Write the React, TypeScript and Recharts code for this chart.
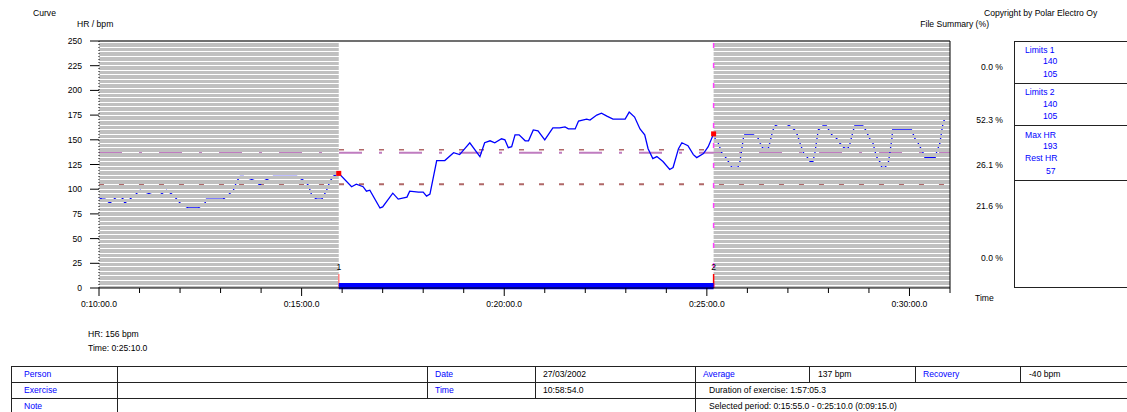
import React from 'react';
import {
  ComposedChart,
  Line,
  XAxis,
  YAxis,
  ReferenceLine,
  ReferenceArea,
  ReferenceDot,
} from 'recharts';

// ---------- data (time in seconds of exercise, HR in bpm) ----------
const preTimes = [600, 604, 609, 616, 629, 636, 638, 646, 653, 661, 680, 690, 700, 710, 715, 720, 732, 747, 757, 759, 777, 784, 791, 799, 804, 809, 814, 833, 838, 843, 858, 883, 893, 905, 910, 915, 922, 930, 937, 942, 947];
const preHr = [92, 90, 90, 86, 94, 90, 86, 90, 94, 99, 94, 94, 99, 94, 90, 86, 81, 81, 86, 90, 90, 90, 94, 99, 108, 113, 113, 108, 104, 108, 113, 113, 113, 108, 104, 94, 90, 90, 99, 108, 113];

const selTimes = [955, 974, 981, 991, 996, 1001, 1016, 1020, 1035, 1043, 1056, 1060, 1073, 1080, 1085, 1090, 1100, 1112, 1125, 1134, 1149, 1164, 1171, 1179, 1186, 1196, 1201, 1206, 1211, 1216, 1222, 1231, 1236, 1243, 1250, 1260, 1272, 1282, 1290, 1295, 1305, 1310, 1322, 1327, 1337, 1344, 1352, 1361, 1379, 1385, 1393, 1401, 1408, 1413, 1420, 1426, 1435, 1445, 1450, 1458, 1463, 1472, 1480, 1485, 1495, 1502, 1510];
const selHr = [116, 102.5, 105, 102.5, 98, 99, 81, 82, 96, 90, 92, 98, 97, 97, 93, 95, 129, 129, 137, 135, 147, 133, 147, 149, 147, 151, 150, 142, 143, 155, 155, 149, 149, 160, 159, 150, 162, 162, 163, 161, 161, 169, 171, 170, 175, 177, 174, 171, 171, 178, 173, 161, 155, 141, 131, 133, 128, 120, 122, 141, 147, 144, 135, 132, 136, 143, 156];

const postTimes = [1512, 1517, 1522, 1527, 1532, 1537, 1546, 1549, 1551, 1554, 1556, 1569, 1576, 1579, 1583, 1591, 1593, 1596, 1598, 1601, 1611, 1623, 1630, 1634, 1638, 1643, 1648, 1653, 1657, 1660, 1662, 1665, 1672, 1677, 1685, 1692, 1697, 1704, 1709, 1712, 1717, 1719, 1731, 1735, 1741, 1746, 1751, 1756, 1759, 1764, 1769, 1771, 1774, 1775, 1803, 1808, 1813, 1820, 1823, 1838, 1840, 1845, 1848, 1850, 1855];
const postHr = [151.5, 146.5, 137, 133, 128, 122, 122, 128, 137, 151.5, 155, 155, 151.5, 146.5, 141.4, 141.4, 146.5, 155, 160, 164, 168, 164, 160, 155, 146.5, 137, 133, 128, 128, 137, 146.5, 160, 164, 164, 155, 151.5, 146.5, 141.4, 141.4, 146.5, 160, 164, 164, 160, 151.5, 146.5, 133, 128, 122, 122, 128, 137, 151.5, 160, 160, 151.5, 146.5, 137, 132, 132, 137, 146.5, 160, 168, 174];

const selStart = 955;
const selEnd = 1510;
const limitUpper = 140;
const limitLower = 105;
const averageHr = 137;

const xTicks = [600, 660, 720, 780, 840, 900, 960, 1020, 1080, 1140, 1200, 1260, 1320, 1380, 1440, 1500, 1560, 1620, 1680, 1740, 1800, 1860];
const xMajorTicks = [600, 900, 1200, 1500, 1800];
const yTicks = [0, 25, 50, 75, 100, 125, 150, 175, 200, 225, 250];

const summaryLabels = ['0.0 %', '52.3 %', '26.1 %', '21.6 %', '0.0 %'];
const limits1 = [140, 105];
const limits2 = [140, 105];
const maxHr = 193;
const restHr = 57;

const personInfo = { date: '27/03/2002', time: '10:58:54.0', average: '137 bpm', recovery: '-40 bpm' };
const durationText = 'Duration of exercise: 1:57:05.3';

// ---------- build table ----------
const data = [
  ...preTimes.map((t, i) => ({ t, hr: preHr[i] })),
  ...selTimes.map((t, i) => ({ t, hr: selHr[i] })),
  ...postTimes.map((t, i) => ({ t, hr: postHr[i] })),
];
const hrAt = (t: number) => {
  const d = data.find((p) => p.t === t);
  return d ? d.hr : 0;
};

const fmtTime = (s: number) => {
  const h = Math.floor(s / 3600);
  const m = Math.floor((s % 3600) / 60);
  const sec = Math.floor(s % 60);
  return `${h}:${String(m).padStart(2, '0')}:${String(sec).padStart(2, '0')}.0`;
};

// ---------- styling ----------
const FONT = '"Liberation Sans", Arial, Helvetica, sans-serif';
const FS = 8.6;
const BLUE = '#0000ff';
const GREY = '#c0c0c0';
const LIMIT = '#b06868';
const AVG = '#c07cc0';
const MAGENTA = '#ff40ff';

// stripe rows inside a 32px pattern tile (gaps of 1px, alternating 5/4 spacing)
const stripeRects = [
  [1, 4], [6, 3], [10, 4], [15, 3], [19, 4], [24, 3], [28, 4],
];

const summaryY = [67, 120, 165, 206, 258];
const rowY = [374, 390, 406];

const XTick = (props: any) => {
  const { x, y, payload } = props;
  const major = xMajorTicks.includes(payload.value);
  return (
    <g>
      <line x1={x} x2={x} y1={y} y2={y + (major ? 8 : 5)} stroke="#000" strokeWidth={1} />
      {major && (
        <text x={x} y={y + 18.5} textAnchor="middle" fontSize={FS} fontFamily={FONT} fill="#000">
          {fmtTime(payload.value)}
        </text>
      )}
    </g>
  );
};

const Txt = ({ x, y, children, color = '#000', align = 'left' }: any) => {
  const base: React.CSSProperties = {
    position: 'absolute',
    top: y - 5,
    lineHeight: '10px',
    fontSize: FS,
    fontFamily: FONT,
    color,
    whiteSpace: 'nowrap',
  };
  if (align === 'right') {
    return <div style={{ ...base, left: x - 300, width: 300, textAlign: 'right' }}>{children}</div>;
  }
  return <div style={{ ...base, left: x }}>{children}</div>;
};

const HLine = ({ x1, x2, y, color = '#222' }: any) => (
  <div style={{ position: 'absolute', left: x1, top: y, width: x2 - x1, height: 1, background: color }} />
);
const VLine = ({ x, y1, y2, color = '#222' }: any) => (
  <div style={{ position: 'absolute', left: x, top: y1, width: 1, height: y2 - y1, background: color }} />
);

const RedSquare = (p: any) => (
  <rect x={p.cx - 2.5} y={p.cy - 2.5} width={5} height={5} fill="#ff0000" />
);

const makeMarker = (label: string, color: string) => (p: any) => (
  <g>
    <line x1={p.cx} x2={p.cx} y1={p.cy - 14} y2={p.cy} stroke={color} strokeWidth={1.5} />
    <text x={p.cx} y={p.cy - 18} textAnchor="middle" fontSize={FS} fontFamily={FONT} fill="#000">
      {label}
    </text>
  </g>
);

export default function App() {
  const endHr = hrAt(selEnd);
  return (
    <div
      style={{
        position: 'absolute',
        left: 0,
        top: 0,
        width: 1127,
        height: 412,
        overflow: 'hidden',
        background: '#fff',
        fontFamily: FONT,
      }}
    >
      <div style={{ position: 'absolute', left: 0, top: 0 }}>
        <ComposedChart
          width={1127}
          height={412}
          data={data}
          margin={{ top: 41, right: 177, bottom: 94, left: 59 }}
        >
          <defs>
            <pattern id="stripes" patternUnits="userSpaceOnUse" x={0} y={24} width={8} height={32}>
              {stripeRects.map(([y, h], i) => (
                <rect key={i} x={0} y={y} width={8} height={h} fill={GREY} shapeRendering="crispEdges" />
              ))}
            </pattern>
          </defs>
          <XAxis
            dataKey="t"
            type="number"
            domain={[600, 1860]}
            ticks={xTicks}
            interval={0}
            height={30}
            tickSize={0}
            tickMargin={0}
            tickLine={false}
            axisLine={{ stroke: '#000' }}
            tick={(p: any) => <XTick {...p} />}
          />
          <YAxis
            type="number"
            domain={[0, 250]}
            ticks={yTicks}
            interval={0}
            width={40}
            tickSize={9}
            tickMargin={8}
            tickLine={{ stroke: '#000' }}
            axisLine={{ stroke: '#000', strokeDasharray: '1 2' }}
            tick={{ fontSize: FS, fill: '#000', fontFamily: FONT }}
          />
          <ReferenceLine y={limitUpper} stroke={LIMIT} strokeWidth={1.5} strokeDasharray="5 15" zIndex={150} />
          <ReferenceLine y={limitLower} stroke={LIMIT} strokeWidth={2} strokeDasharray="5 15" zIndex={150} />
          <ReferenceLine y={averageHr} stroke={AVG} strokeWidth={2} strokeDasharray="23 17 3 17" zIndex={150} />
          <Line
            dataKey="hr"
            type="linear"
            stroke={BLUE}
            strokeWidth={1.3}
            dot={false}
            activeDot={false}
            isAnimationActive={false}
            zIndex={200}
          />
          <ReferenceArea
            x1={600}
            x2={selStart}
            y1={0}
            y2={250}
            fill="url(#stripes)"
            fillOpacity={1}
            stroke="none"
            zIndex={300}
          />
          <ReferenceArea
            x1={selEnd}
            x2={1860}
            y1={0}
            y2={250}
            fill="url(#stripes)"
            fillOpacity={1}
            stroke="none"
            zIndex={300}
          />
          <ReferenceLine x={selEnd} stroke={MAGENTA} strokeWidth={1.5} strokeDasharray="5 15" zIndex={320} />
          <ReferenceLine y={250} stroke="#707070" strokeWidth={2} zIndex={330} />
          <ReferenceLine x={1860} stroke="#000" strokeWidth={1} zIndex={330} />
          <ReferenceDot x={selStart} y={0} shape={makeMarker('1', '#ff8080')} zIndex={340} />
          <ReferenceDot x={selEnd} y={0} shape={makeMarker('2', '#ff0000')} zIndex={340} />
          <ReferenceArea
            x1={selStart}
            x2={selEnd}
            y1={-1.2}
            y2={5}
            fill={BLUE}
            fillOpacity={1}
            stroke="none"
            ifOverflow="visible"
            zIndex={350}
          />
          <ReferenceDot x={selStart} y={hrAt(selStart)} shape={RedSquare} zIndex={600} />
          <ReferenceDot x={selEnd} y={hrAt(selEnd)} shape={RedSquare} zIndex={600} />
        </ComposedChart>
      </div>

      {/* header texts */}
      <Txt x={33} y={13}>Curve</Txt>
      <Txt x={77} y={24}>HR / bpm</Txt>
      <Txt x={984} y={13}>Copyright by Polar Electro Oy</Txt>
      <Txt x={989} y={24} align="right">File Summary (%)</Txt>

      {/* summary percentages */}
      {summaryLabels.map((s, i) => (
        <Txt key={i} x={1003} y={summaryY[i]} align="right">
          {s}
        </Txt>
      ))}
      <Txt x={975} y={298}>Time</Txt>

      {/* right info box */}
      <div
        style={{
          position: 'absolute',
          left: 1014,
          top: 41,
          width: 200,
          height: 247,
          border: '1px solid #222',
          boxSizing: 'border-box',
        }}
      />
      <HLine x1={1014} x2={1127} y={83} />
      <HLine x1={1014} x2={1127} y={125} />
      <HLine x1={1014} x2={1127} y={180} />
      <Txt x={1025} y={50} color={BLUE}>Limits 1</Txt>
      <Txt x={1043} y={61} color={BLUE}>{limits1[0]}</Txt>
      <Txt x={1043} y={74} color={BLUE}>{limits1[1]}</Txt>
      <Txt x={1025} y={92} color={BLUE}>Limits 2</Txt>
      <Txt x={1043} y={104} color={BLUE}>{limits2[0]}</Txt>
      <Txt x={1043} y={116} color={BLUE}>{limits2[1]}</Txt>
      <Txt x={1025} y={135} color={BLUE}>Max HR</Txt>
      <Txt x={1043} y={146} color={BLUE}>{maxHr}</Txt>
      <Txt x={1025} y={158} color={BLUE}>Rest HR</Txt>
      <Txt x={1046} y={171} color={BLUE}>{restHr}</Txt>

      {/* cursor readout */}
      <Txt x={88} y={334}>HR: {endHr} bpm</Txt>
      <Txt x={88} y={348}>Time: {fmtTime(selEnd)}</Txt>

      {/* bottom table */}
      <HLine x1={11} x2={1127} y={366} />
      <HLine x1={11} x2={1127} y={382} />
      <HLine x1={11} x2={1127} y={398} />
      <VLine x={11} y1={366} y2={412} />
      <VLine x={117} y1={366} y2={412} />
      <VLine x={427} y1={366} y2={398} />
      <VLine x={535} y1={366} y2={398} />
      <VLine x={695} y1={366} y2={412} />
      <VLine x={809} y1={366} y2={382} />
      <VLine x={915} y1={366} y2={382} />
      <VLine x={1020} y1={366} y2={382} />

      <Txt x={24} y={rowY[0]} color={BLUE}>Person</Txt>
      <Txt x={435} y={rowY[0]} color={BLUE}>Date</Txt>
      <Txt x={543} y={rowY[0]}>{personInfo.date}</Txt>
      <Txt x={703} y={rowY[0]} color={BLUE}>Average</Txt>
      <Txt x={818} y={rowY[0]}>{personInfo.average}</Txt>
      <Txt x={923} y={rowY[0]} color={BLUE}>Recovery</Txt>
      <Txt x={1029} y={rowY[0]}>{personInfo.recovery}</Txt>

      <Txt x={24} y={rowY[1]} color={BLUE}>Exercise</Txt>
      <Txt x={435} y={rowY[1]} color={BLUE}>Time</Txt>
      <Txt x={543} y={rowY[1]}>{personInfo.time}</Txt>
      <Txt x={709} y={rowY[1]}>{durationText}</Txt>

      <Txt x={24} y={rowY[2]} color={BLUE}>Note</Txt>
      <Txt x={709} y={rowY[2]}>
        Selected period: {fmtTime(selStart)} - {fmtTime(selEnd)} ({fmtTime(selEnd - selStart)})
      </Txt>
    </div>
  );
}
